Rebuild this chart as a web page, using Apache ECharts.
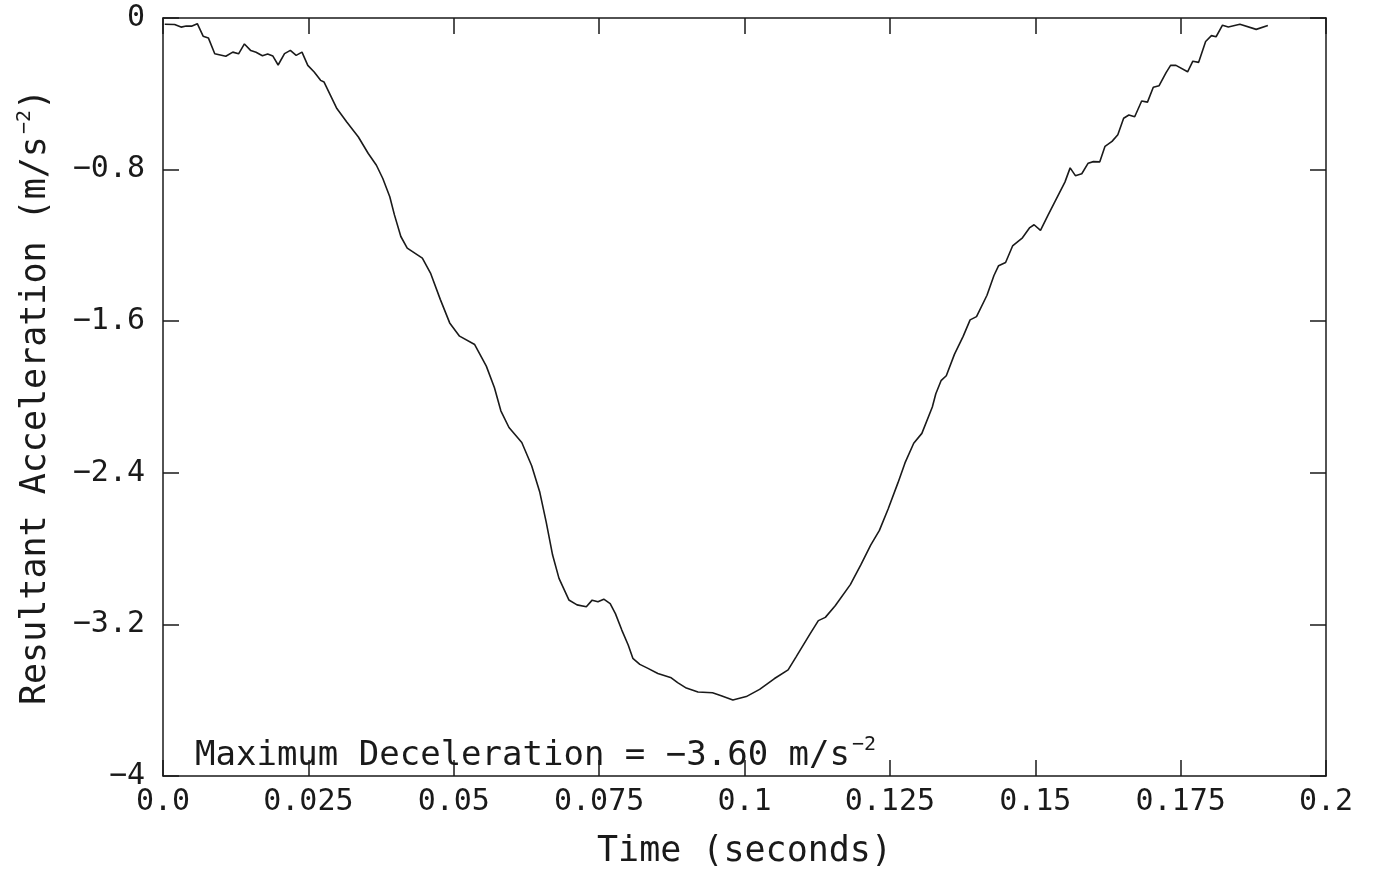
<!DOCTYPE html>
<html>
<head>
<meta charset="utf-8">
<script src="https://cdn.jsdelivr.net/npm/echarts@6/dist/echarts.min.js"></script>
<style>
html,body{margin:0;padding:0;background:#fff;}
#chart{width:1375px;height:874px;}
</style>
</head>
<body>
<div id="chart"></div>
<script>
// Time (s)
const timeValues = [0.0003,0.0020,0.0031,0.0040,0.0049,0.0059,0.0069,0.0078,0.0089,0.0108,
0.0120,0.0130,0.0140,0.0151,0.0160,0.0171,0.0180,0.0189,0.0198,0.0209,
0.0219,0.0229,0.0239,0.0249,0.0260,0.0271,0.0277,0.0288,0.0299,0.0316,
0.0336,0.0353,0.0367,0.0378,0.0390,0.0398,0.0409,0.0420,0.0446,0.0460,
0.0477,0.0493,0.0510,0.0536,0.0556,0.0570,0.0581,0.0595,0.0617,0.0634,
0.0648,0.0659,0.0670,0.0681,0.0698,0.0712,0.0728,0.0738,0.0748,0.0758,
0.0769,0.0778,0.0789,0.0800,0.0808,0.0820,0.0834,0.0851,0.0874,0.0885,
0.0900,0.0920,0.0945,0.0960,0.0980,0.1003,0.1026,0.1051,0.1075,0.1089,
0.1113,0.1127,0.1139,0.1156,0.1182,0.1200,0.1217,0.1232,0.1247,0.1264,
0.1276,0.1291,0.1305,0.1323,0.1329,0.1338,0.1347,0.1361,0.1376,0.1388,
0.1399,0.1417,0.1429,0.1437,0.1449,0.1461,0.1478,0.1490,0.1498,0.1509,
0.1522,0.1551,0.1560,0.1569,0.1580,0.1591,0.1600,0.1611,0.1620,0.1632,
0.1642,0.1652,0.1661,0.1671,0.1683,0.1693,0.1703,0.1713,0.1725,0.1733,
0.1742,0.1762,0.1771,0.1781,0.1793,0.1803,0.1811,0.1822,0.1832,0.1852,
0.1880,0.1900];
// Resultant acceleration (m/s^-2)
const accelValues = [-0.033,-0.034,-0.048,-0.042,-0.043,-0.030,-0.096,-0.105,-0.189,-0.202,
-0.180,-0.189,-0.137,-0.172,-0.181,-0.199,-0.190,-0.201,-0.248,-0.188,
-0.171,-0.197,-0.180,-0.250,-0.285,-0.329,-0.338,-0.408,-0.478,-0.549,
-0.628,-0.715,-0.777,-0.847,-0.943,-1.039,-1.153,-1.214,-1.267,-1.346,
-1.486,-1.609,-1.679,-1.723,-1.837,-1.951,-2.073,-2.161,-2.240,-2.363,
-2.503,-2.660,-2.834,-2.957,-3.071,-3.097,-3.107,-3.072,-3.081,-3.067,
-3.090,-3.143,-3.230,-3.309,-3.379,-3.411,-3.432,-3.459,-3.482,-3.507,
-3.536,-3.557,-3.561,-3.576,-3.599,-3.581,-3.543,-3.487,-3.440,-3.370,
-3.249,-3.180,-3.163,-3.102,-2.990,-2.886,-2.782,-2.704,-2.591,-2.452,
-2.348,-2.244,-2.192,-2.053,-1.983,-1.914,-1.888,-1.775,-1.680,-1.593,
-1.576,-1.463,-1.359,-1.307,-1.290,-1.203,-1.160,-1.108,-1.091,-1.121,
-1.040,-0.866,-0.791,-0.832,-0.822,-0.766,-0.758,-0.759,-0.677,-0.651,
-0.616,-0.529,-0.512,-0.521,-0.438,-0.444,-0.365,-0.357,-0.288,-0.249,
-0.250,-0.284,-0.228,-0.234,-0.124,-0.093,-0.099,-0.038,-0.047,-0.033,
-0.060,-0.040];
const xTickLabels = ['0.0','0.025','0.05','0.075','0.1','0.125','0.15','0.175','0.2'];
const yTickLabels = ['−4','−3.2','−2.4','−1.6','−0.8','0'];
const xTitle = 'Time (seconds)';
const yTitle = 'Resultant Acceleration (m/s{sup|−2})';
const annotation = 'Maximum Deceleration = −3.60 m/s{sup|−2}';

const FONT = 'DejaVu Sans Mono';
const INK = '#1a1a1a';
const chart = echarts.init(document.getElementById('chart'));
const seriesData = timeValues.map((t, i) => [t, accelValues[i]]);

const lineStyle = {color: INK, width: 1.5};
const tickStyle = {show: true, inside: true, length: 16, lineStyle: {color: INK, width: 1.5}};
const supStyle = {fontFamily: FONT, fontSize: 20, color: INK, padding: [0,0,22,2]};

chart.setOption({
  backgroundColor: '#fff',
  animation: false,
  title: {
    text: annotation,
    left: 190, top: 730,
    textStyle: {
      fontFamily: FONT, fontSize: 34, fontWeight: 'normal', color: INK,
      rich: {sup: supStyle}
    }
  },
  grid: {left: 163, top: 18, width: 1163, height: 766},
  xAxis: [{
    type: 'value', position: 'bottom', min: 0, max: 0.2, interval: 0.025,
    axisLine: {show: true, onZero: false, lineStyle: lineStyle},
    axisTick: tickStyle,
    splitLine: {show: false},
    axisLabel: {
      margin: 11, fontFamily: FONT, fontSize: 30, color: INK,
      formatter: (v) => xTickLabels[Math.round(v / 0.025)]
    },
    name: xTitle, nameLocation: 'middle', nameGap: 58,
    nameTextStyle: {fontFamily: FONT, fontSize: 35, color: INK}
  }, {
    type: 'value', position: 'top', min: 0, max: 0.2, interval: 0.025,
    axisLine: {show: true, onZero: false, lineStyle: lineStyle},
    axisTick: tickStyle, axisLabel: {show: false}, splitLine: {show: false}
  }],
  yAxis: [{
    type: 'value', position: 'left', min: -4, max: 0, interval: 0.8,
    axisLine: {show: true, onZero: false, lineStyle: lineStyle},
    axisTick: tickStyle,
    splitLine: {show: false},
    axisLabel: {
      margin: 18, fontFamily: FONT, fontSize: 30, color: INK,
      formatter: (v) => yTickLabels[Math.round((v + 4) / 0.8)]
    },
    name: yTitle, nameLocation: 'middle', nameGap: 106,
    nameTextStyle: {
      fontFamily: FONT, fontSize: 35, color: INK,
      rich: {sup: supStyle}
    }
  }, {
    type: 'value', position: 'right', min: -4, max: 0, interval: 0.8,
    axisLine: {show: true, onZero: false, lineStyle: lineStyle},
    axisTick: tickStyle, axisLabel: {show: false}, splitLine: {show: false}
  }],
  series: [{
    type: 'line',
    data: seriesData,
    xAxisIndex: 0, yAxisIndex: 0,
    showSymbol: false,
    smooth: false,
    lineStyle: {color: INK, width: 1.6},
    silent: true
  }]
});
</script>
</body>
</html>
